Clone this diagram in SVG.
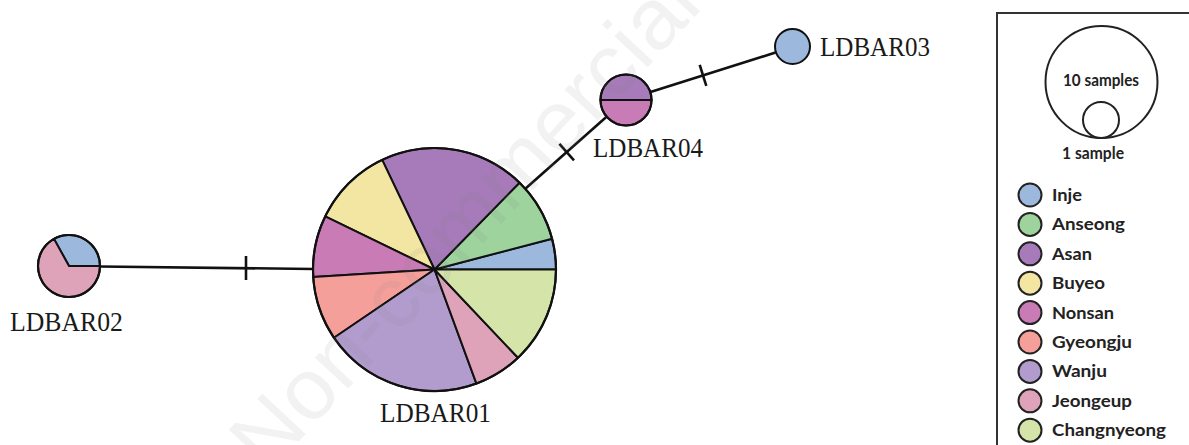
<svg xmlns="http://www.w3.org/2000/svg" width="1189" height="445" viewBox="0 0 1189 445">
<style>
.sl{stroke:#111;stroke-width:2;stroke-linejoin:round}
.edge{stroke:#111;stroke-width:2.6;fill:none}
.lbl{font-family:"Liberation Serif","Times New Roman",serif;font-size:27px;fill:#1a1a1a}
.leg{font-family:Lato,"Open Sans",sans-serif;font-weight:bold;font-size:17px;fill:#222}
.legc{stroke:#222;stroke-width:2}
.inje{fill:#9cb9dd}.anseong{fill:#9ed39e}.asan{fill:#a77bb9}.buyeo{fill:#f3e6a2}.nonsan{fill:#c97bb5}
.gyeongju{fill:#f59f9b}.wanju{fill:#b19ccd}.jeongeup{fill:#dea2b9}.changnyeong{fill:#d5e5aa}
</style>
<rect width="1189" height="445" fill="#fff"/>
<g id="connectors">
<path class="edge" d="M100,266.5 L313,269"/>
<path class="edge" d="M246,256 L246,280"/>
<path class="edge" d="M525.3,188.8 L606,117.3"/>
<path class="edge" d="M559.4,143.9 L574,160.3"/>
<path class="edge" d="M650.5,92 L775.5,52.5"/>
<path class="edge" d="M699.7,64.9 L706.3,85.9"/>
</g>
<g id="LDBAR01">
<path class="sl inje" d="M434.5,269.5 L556,269.5 A121.5,121.5 0 0 0 552.03,238.66 Z"/>
<path class="sl anseong" d="M434.5,269.5 L552.03,238.66 A121.5,121.5 0 0 0 519.51,182.69 Z"/>
<path class="sl asan" d="M434.5,269.5 L519.51,182.69 A121.5,121.5 0 0 0 382.19,159.83 Z"/>
<path class="sl buyeo" d="M434.5,269.5 L382.19,159.83 A121.5,121.5 0 0 0 325.2,216.43 Z"/>
<path class="sl nonsan" d="M434.5,269.5 L325.2,216.43 A121.5,121.5 0 0 0 313.23,276.91 Z"/>
<path class="sl gyeongju" d="M434.5,269.5 L313.23,276.91 A121.5,121.5 0 0 0 334.01,337.79 Z"/>
<path class="sl wanju" d="M434.5,269.5 L334.01,337.79 A121.5,121.5 0 0 0 476.45,383.53 Z"/>
<path class="sl jeongeup" d="M434.5,269.5 L476.45,383.53 A121.5,121.5 0 0 0 517.98,357.78 Z"/>
<path class="sl changnyeong" d="M434.5,269.5 L517.98,357.78 A121.5,121.5 0 0 0 556,269.5 Z"/>
<circle cx="434.5" cy="269.5" r="121.5" fill="none" stroke="#111" stroke-width="2.2"/>
<text class="lbl" x="380" y="422" textLength="111" lengthAdjust="spacingAndGlyphs">LDBAR01</text>
</g>
<g id="LDBAR02">
<path class="sl inje" d="M69,266 L100,266 A31,31 0 0 0 53.97,238.89 Z"/>
<path class="sl jeongeup" d="M69,266 L53.97,238.89 A31,31 0 1 0 100,266 Z"/>
<circle cx="69" cy="266" r="31" fill="none" stroke="#111" stroke-width="2.2"/>
<text class="lbl" x="10" y="331" textLength="113" lengthAdjust="spacingAndGlyphs">LDBAR02</text>
</g>
<g id="LDBAR04">
<path class="sl asan" d="M600.5,100 A25.5,25.5 0 0 1 651.5,100 Z"/>
<path class="sl nonsan" d="M600.5,100 A25.5,25.5 0 0 0 651.5,100 Z"/>
<circle cx="626" cy="100" r="25.5" fill="none" stroke="#111" stroke-width="2.2"/>
<text class="lbl" x="593" y="157" textLength="110" lengthAdjust="spacingAndGlyphs">LDBAR04</text>
</g>
<g id="LDBAR03">
<circle class="sl inje" cx="792.5" cy="46.5" r="17.5" stroke-width="2.2"/>
<text class="lbl" x="820" y="56" textLength="110" lengthAdjust="spacingAndGlyphs">LDBAR03</text>
</g>
<g id="legend">
<rect x="997" y="13" width="300" height="500" fill="none" stroke="#333" stroke-width="2"/>
<circle cx="1101.5" cy="82" r="56" fill="none" stroke="#222" stroke-width="2"/>
<circle cx="1101" cy="120" r="18" fill="none" stroke="#222" stroke-width="2"/>
<text class="leg" x="1101" y="86" text-anchor="middle" font-size="15" textLength="76" lengthAdjust="spacingAndGlyphs">10 samples</text>
<text class="leg" x="1093" y="159" text-anchor="middle" font-size="15" textLength="62" lengthAdjust="spacingAndGlyphs">1 sample</text>
<circle class="legc inje" cx="1030" cy="195" r="11.5"/>
<text class="leg" x="1052" y="201" textLength="30" lengthAdjust="spacingAndGlyphs">Inje</text>
<circle class="legc anseong" cx="1030" cy="224.4" r="11.5"/>
<text class="leg" x="1052" y="230.4" textLength="73" lengthAdjust="spacingAndGlyphs">Anseong</text>
<circle class="legc asan" cx="1030" cy="253.8" r="11.5"/>
<text class="leg" x="1052" y="259.8" textLength="40" lengthAdjust="spacingAndGlyphs">Asan</text>
<circle class="legc buyeo" cx="1030" cy="283.2" r="11.5"/>
<text class="leg" x="1052" y="289.2" textLength="53" lengthAdjust="spacingAndGlyphs">Buyeo</text>
<circle class="legc nonsan" cx="1030" cy="312.6" r="11.5"/>
<text class="leg" x="1052" y="318.6" textLength="62" lengthAdjust="spacingAndGlyphs">Nonsan</text>
<circle class="legc gyeongju" cx="1030" cy="342" r="11.5"/>
<text class="leg" x="1052" y="348" textLength="80" lengthAdjust="spacingAndGlyphs">Gyeongju</text>
<circle class="legc wanju" cx="1030" cy="371.4" r="11.5"/>
<text class="leg" x="1052" y="377.4" textLength="55" lengthAdjust="spacingAndGlyphs">Wanju</text>
<circle class="legc jeongeup" cx="1030" cy="400.8" r="11.5"/>
<text class="leg" x="1052" y="406.8" textLength="80" lengthAdjust="spacingAndGlyphs">Jeongeup</text>
<circle class="legc changnyeong" cx="1030" cy="430.2" r="11.5"/>
<text class="leg" x="1052" y="436.2" textLength="114" lengthAdjust="spacingAndGlyphs">Changnyeong</text>
</g>
<text x="0" y="0" transform="translate(465,222) rotate(-47)" dy="28" text-anchor="middle" font-family="Liberation Sans, Arial, sans-serif" font-size="86" fill="#808080" fill-opacity="0.1" textLength="640" lengthAdjust="spacingAndGlyphs">Non-commercial</text>
</svg>
